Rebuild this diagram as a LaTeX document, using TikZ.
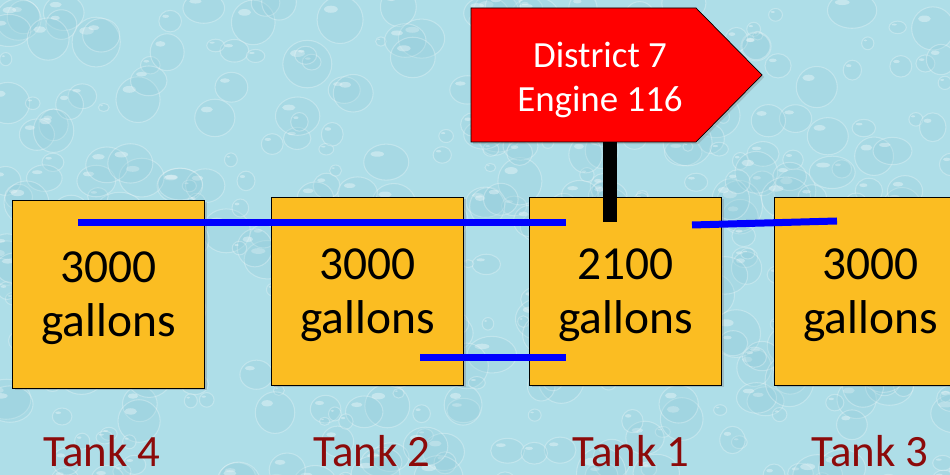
\documentclass[tikz,border=0pt]{standalone}
\usepackage{fontspec}
\setmainfont{Carlito}
\usetikzlibrary{positioning, shadows}
\definecolor{tankgold}{HTML}{FBBD22}
\definecolor{tankred}{HTML}{8C0A0A}
\definecolor{pipeblue}{HTML}{0000FF}
\definecolor{waterbg}{HTML}{AEDEE8}
\definecolor{waterdrop}{HTML}{8FCAD8}

\begin{document}
\begin{tikzpicture}[x=0.02cm, y=-0.02cm,
    tankbox/.style={draw=black, thin, fill=tankgold, minimum width=3.84cm,
        minimum height=3.76cm, align=center, inner sep=0pt, text depth=0pt,
        font=\fontsize{27}{31}\selectfont,
        drop shadow={shadow xshift=1.2pt, shadow yshift=-1.2pt, opacity=0.35}},
    tanklabel/.style={text=tankred, font=\fontsize{25.5}{30}\selectfont,
        anchor=base, inner sep=0pt},
    signshape/.style={draw=black, thin, fill=red,
        drop shadow={shadow xshift=1.2pt, shadow yshift=-1.2pt, opacity=0.35}},
    signtext/.style={text=white, align=center, font=\fontsize{21}{25.5}\selectfont},
    pipe/.style={draw=pipeblue, line width=0.14cm},
    pole/.style={draw=black, line width=0.28cm},
]
    \useasboundingbox (0,0) rectangle (950,475);

    % Water background
    \fill[waterbg] (0,0) rectangle (950,475);
    \begin{scope}
        \clip (0,0) rectangle (950,475);
        \pgfmathsetseed{42}
        \foreach \i in {1,...,420} {
            \pgfmathsetmacro{\dx}{rnd*960}
            \pgfmathsetmacro{\dy}{rnd*485}
            \pgfmathsetmacro{\rx}{5+rnd*20}
            \pgfmathsetmacro{\ry}{\rx*(0.7+rnd*0.4)}
            \fill[waterdrop, opacity=0.22] (\dx,\dy) ellipse ({\rx*0.02cm} and {\ry*0.02cm});
            \draw[white, opacity=0.28, line width=0.6pt] (\dx,\dy) ellipse ({\rx*0.02cm} and {\ry*0.02cm});
            \fill[white, opacity=0.35] (\dx-\rx*0.4,\dy-\ry*0.45) ellipse ({\rx*0.006cm} and {\ry*0.003cm});
        }
    \end{scope}

    % Tanks
    \node[tankbox] (tank4) at (108.5,294) {3000\\gallons};
    \node[tankbox] (tank2) at (367.5,291) {3000\\gallons};
    \node[tankbox] (tank1) at (625.5,291) {2100\\gallons};
    \node[tankbox] (tank3) at (870.5,291) {3000\\gallons};

    \node[tanklabel] (label4) at (102,467) {Tank 4};
    \node[tanklabel] (label2) at (372,467) {Tank 2};
    \node[tanklabel] (label1) at (631,467) {Tank 1};
    \node[tanklabel] (label3) at (870,467) {Tank 3};

    % Pipes
    \coordinate (pipe4) at (78,223);
    \coordinate (pipe1a) at (566,223);
    \coordinate (pipe2) at (420,358);
    \coordinate (pipe1b) at (566,358);
    \coordinate (pipe1c) at (692,225);
    \coordinate (pipe3) at (837,221);
    \draw[pipe] (pipe4) -- (pipe1a);
    \draw[pipe] (pipe2) -- (pipe1b);
    \draw[pipe] (pipe1c) -- (pipe3);

    % Engine sign
    \draw[signshape] (471,8) -- (696,8) -- (762,75) -- (696,142) -- (471,142) -- cycle;
    \node[signtext] (engine) at (600,80) {District 7\\Engine 116};
    \coordinate (signfoot) at (610,142);
    \coordinate (polefoot) at (610,222);
    \draw[pole] (signfoot) -- (polefoot);

\end{tikzpicture}
\end{document}
